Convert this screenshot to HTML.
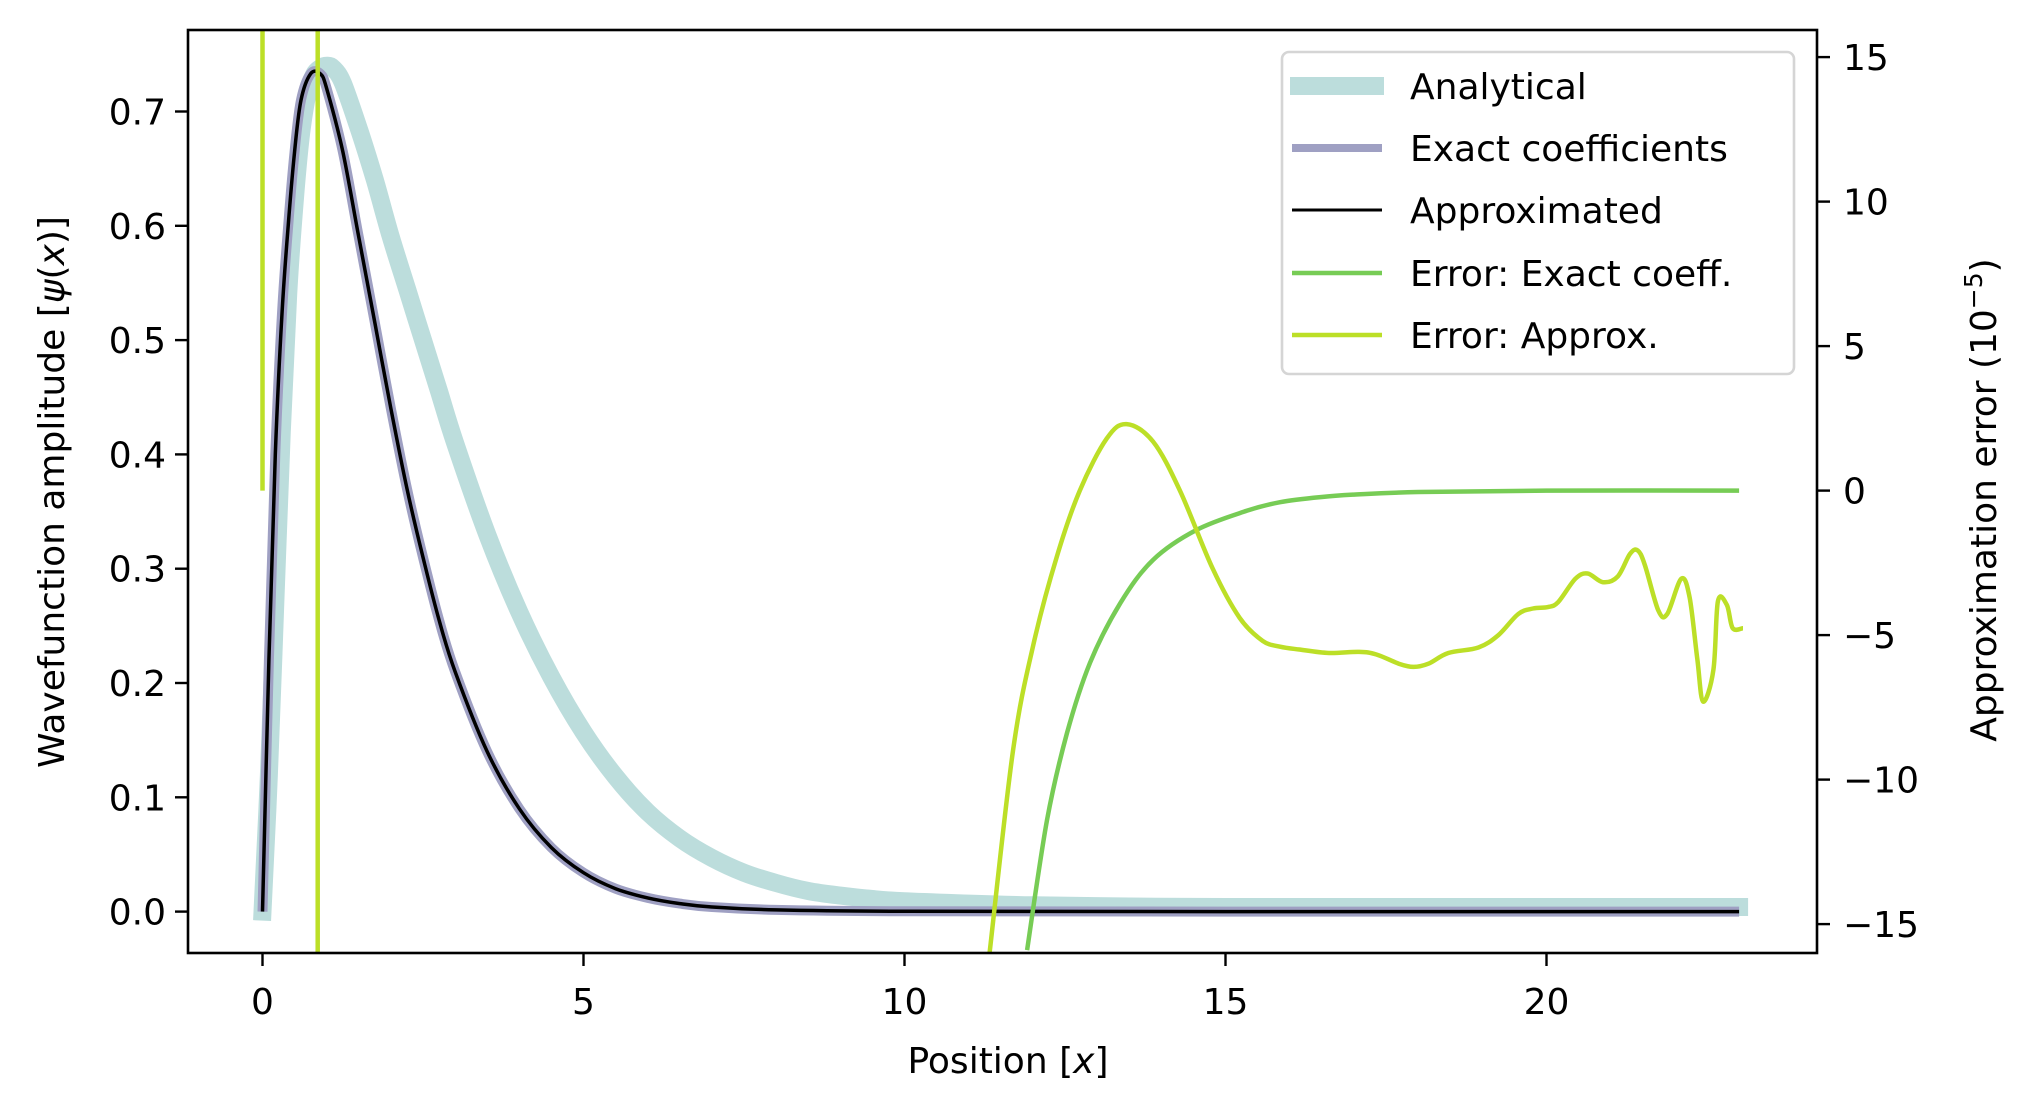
<!DOCTYPE html>
<html><head><meta charset="utf-8"><style>
html,body{margin:0;padding:0;background:#fff;overflow:hidden}
#wrap{position:relative;width:2030px;height:1113px;overflow:hidden}
svg{display:block}
svg text{font-family:"DejaVu Sans","Liberation Sans",sans-serif;fill:#000}
</style></head><body>
<div id="wrap">
<svg id="chart" width="2030" height="1113" viewBox="0 0 2030 1113" xmlns="http://www.w3.org/2000/svg" style="position:absolute;left:0;top:0">
<defs><clipPath id="clip"><rect x="188" y="30" width="1629" height="923"/></clipPath></defs>
<rect x="0" y="0" width="2030" height="1113" fill="#fff"/>
<g id="plot" clip-path="url(#clip)"></g>
<g id="axes"></g>
</svg>
<svg style="position:absolute;left:0;top:0" width="2030" height="1113">
<text x="1008" y="1073" font-size="36" text-anchor="middle" font-family="DejaVu Sans, Liberation Sans, sans-serif">Position [<tspan font-style="italic">x</tspan>]</text>
<text transform="translate(64,492) rotate(-90)" font-size="36" text-anchor="middle" font-family="DejaVu Sans, Liberation Sans, sans-serif">Wavefunction amplitude [<tspan font-style="italic">ψ</tspan>(<tspan font-style="italic">x</tspan>)]</text>
<text transform="translate(1996,500) rotate(-90)" font-size="36" text-anchor="middle" font-family="DejaVu Sans, Liberation Sans, sans-serif">Approximation error (10<tspan font-size="25" dy="-14">−5</tspan><tspan dy="14">)</tspan></text>
<g font-family="DejaVu Sans, Liberation Sans, sans-serif" font-size="36">
<rect x="1282" y="52" width="512" height="322" rx="7" fill="#fff" fill-opacity="0.8" stroke="#d5d5d5" stroke-width="2.6"/>
<line x1="1290" x2="1384" y1="86" y2="86" stroke="#bcdddc" stroke-width="18"/>
<text x="1410" y="99">Analytical</text>
<line x1="1292" x2="1382" y1="148" y2="148" stroke="#9fa0c3" stroke-width="8"/>
<text x="1410" y="161">Exact coefficients</text>
<line x1="1292" x2="1382" y1="210" y2="210" stroke="#000" stroke-width="3"/>
<text x="1410" y="223">Approximated</text>
<line x1="1292" x2="1382" y1="273" y2="273" stroke="#77cc55" stroke-width="4.5"/>
<text x="1410" y="286">Error: Exact coeff.</text>
<line x1="1292" x2="1382" y1="335" y2="335" stroke="#bcdf27" stroke-width="4.5"/>
<text x="1410" y="348">Error: Approx.</text>
</g>
</svg>
</div>
<script>
const anaX=[0,0.1,0.2,0.3,0.4,0.5,0.6,0.7,0.8,0.9,1.0,1.1,1.25,1.5,1.75,2,2.25,2.5,2.75,3,3.5,4,4.5,5,5.5,6,6.5,7,7.5,8,8.5,9,9.5,10,11,12,13.5,15,18,23];
const anaY=[0,0.12,0.27,0.42,0.54,0.62,0.68,0.715,0.732,0.738,0.74,0.738,0.725,0.685,0.64,0.59,0.545,0.5,0.455,0.41,0.33,0.262,0.205,0.157,0.118,0.087,0.064,0.047,0.034,0.025,0.018,0.014,0.011,0.009,0.007,0.0055,0.0045,0.004,0.004,0.004];
const apxX=[0,0.1,0.2,0.3,0.4,0.5,0.6,0.75,0.9,1.0,1.25,1.5,1.75,2,2.25,2.5,2.75,3,3.5,4,4.5,5,5.5,6,6.5,7,8,10,15,23];
const apxY=[0,0.22,0.4,0.52,0.6,0.665,0.71,0.733,0.733,0.72,0.665,0.59,0.515,0.44,0.37,0.31,0.255,0.21,0.14,0.09,0.056,0.034,0.02,0.012,0.007,0.004,0.0015,0.0003,0,0];
const errEX=[11.91,12.22,12.53,12.89,13.36,13.87,14.55,15.33,15.85,16.5,17,18,20,23];
const errEY=[-15.9,-11.4,-8.4,-5.96,-3.9,-2.4,-1.36,-0.7,-0.4,-0.22,-0.14,-0.05,0,0];
const errAX=[0,0,0.86,0.86,11.3,11.33,11.69,12.0,12.37,12.73,13.15,13.46,13.87,14.29,14.8,15.22,15.58,15.85,16.15,16.61,17.08,17.35,17.7,17.93,18.16,18.47,18.94,19.25,19.56,19.79,20.02,20.18,20.45,20.64,20.88,21.11,21.3,21.42,21.53,21.74,21.88,22.1,22.23,22.35,22.44,22.6,22.67,22.81,22.9,23.06];
const errAY=[0,16.5,16.5,-16.5,-16.5,-15.9,-9.0,-5.4,-2.3,0,1.8,2.3,1.7,0,-2.7,-4.4,-5.2,-5.4,-5.5,-5.62,-5.58,-5.67,-5.99,-6.1,-5.99,-5.62,-5.43,-5.0,-4.27,-4.08,-4.03,-3.86,-3.05,-2.87,-3.17,-2.97,-2.19,-2.07,-2.56,-4.14,-4.27,-3.05,-3.71,-5.85,-7.3,-6.2,-3.83,-3.96,-4.76,-4.76];
const xTicks=[0,5,10,15,20];
const yTicks=[0,0.1,0.2,0.3,0.4,0.5,0.6,0.7];
const y2Ticks=[-15,-10,-5,0,5,10,15];

const NS='http://www.w3.org/2000/svg';
const sx=v=>262.5+64.2*v;
const sy=v=>911.6-1143*v;
const sy2=v=>490.6-28.9*v;
function mk(tag,attrs,parent){const e=document.createElementNS(NS,tag);for(const k in attrs)e.setAttribute(k,attrs[k]);parent.appendChild(e);return e;}
const plot=document.getElementById('plot'),axes=document.getElementById('axes');
function smoothPath(pts,straightUntil){
  let d='M'+pts[0][0].toFixed(1)+','+pts[0][1].toFixed(1);
  for(let i=1;i<pts.length;i++){
    if(i<=straightUntil){d+='L'+pts[i][0].toFixed(1)+','+pts[i][1].toFixed(1);continue;}
    const p0=pts[Math.max(i-2,straightUntil)],p1=pts[i-1],p2=pts[i],p3=pts[Math.min(i+1,pts.length-1)];
    const c1x=p1[0]+(p2[0]-p0[0])/6,c1y=p1[1]+(p2[1]-p0[1])/6;
    const c2x=p2[0]-(p3[0]-p1[0])/6,c2y=p2[1]-(p3[1]-p1[1])/6;
    d+='C'+c1x.toFixed(1)+','+c1y.toFixed(1)+' '+c2x.toFixed(1)+','+c2y.toFixed(1)+' '+p2[0].toFixed(1)+','+p2[1].toFixed(1);
  }
  return d;
}
function line(xs,ys,fy,color,w,name,straightUntil,cap){
  const pts=xs.map((x,i)=>[sx(x),fy(ys[i])]);
  const p=mk('path',{d:smoothPath(pts,straightUntil),fill:'none',stroke:color,'stroke-width':w,'stroke-linejoin':'round','stroke-linecap':cap||'butt'},plot);
  
  
}
line(anaX,anaY,sy,'#bcdddc',18,'analytical-line',0,'square');
line(apxX,apxY,sy,'#9fa0c3',10,'exact-coefficients-line',0);
line(apxX,apxY,sy,'#000',3.5,'approximated-line',0);
line(errEX,errEY,sy2,'#77cc55',4.5,'error-exact-coeff-line',0);
line(errAX,errAY,sy2,'#bcdf27',4.5,'error-approx-line',4);

mk('rect',{x:188,y:30,width:1629,height:923,fill:'none',stroke:'#000','stroke-width':2.6},axes);
xTicks.forEach(v=>{
  mk('line',{x1:sx(v),x2:sx(v),y1:953,y2:966,stroke:'#000','stroke-width':2.4},axes);
  const t=mk('text',{x:sx(v),y:1014,'font-size':36,'text-anchor':'middle'},axes);t.textContent=v;
  
  
});
yTicks.forEach(v=>{
  mk('line',{x1:175,x2:188,y1:sy(v),y2:sy(v),stroke:'#000','stroke-width':2.4},axes);
  const t=mk('text',{x:166,y:sy(v)+13,'font-size':36,'text-anchor':'end'},axes);t.textContent=v.toFixed(1);
  
  
});
y2Ticks.forEach(v=>{
  mk('line',{x1:1817,x2:1830,y1:sy2(v),y2:sy2(v),stroke:'#000','stroke-width':2.4},axes);
  const t=mk('text',{x:1843,y:sy2(v)+13,'font-size':36,'text-anchor':'start'},axes);t.textContent=v<0?'\u2212'+(-v):v;
  
  
});
</script>
</body></html>
